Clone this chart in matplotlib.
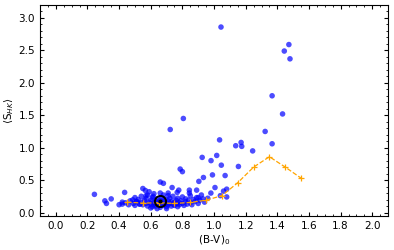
import numpy as np
import matplotlib
matplotlib.use('Agg')
import matplotlib.pyplot as plt
from matplotlib.ticker import AutoMinorLocator

# scattered stars (B-V)_0 vs <S_HK>
bv_out = [0.244, 0.31, 0.32, 0.35, 0.40, 0.435, 0.42, 0.486, 0.51, 0.53, 0.55, 0.566, 0.59, 0.57,
          0.615, 0.66, 0.68, 0.735, 0.71, 0.767, 0.777, 0.844, 0.844, 0.89, 0.786, 0.80, 0.904,
          0.933, 0.99, 1.07, 1.006, 1.08, 1.06, 0.98, 1.04, 1.08, 0.90, 0.925, 1.017, 0.981,
          1.046, 1.154, 1.035, 1.171, 1.137, 1.175, 1.244, 1.323, 1.367, 1.367, 1.433, 1.473,
          1.444, 1.48, 1.044, 0.806, 0.723]
shk_out = [0.28, 0.18, 0.14, 0.21, 0.12, 0.31, 0.16, 0.195, 0.17, 0.13, 0.37, 0.34, 0.32, 0.26,
           0.25, 0.47, 0.45, 0.385, 0.30, 0.31, 0.345, 0.345, 0.30, 0.345, 0.67, 0.63, 0.48,
           0.54, 0.58, 0.57, 0.385, 0.36, 0.33, 0.30, 0.26, 0.24, 0.23, 0.85, 0.88, 0.80,
           0.73, 0.71, 1.12, 1.08, 1.03, 1.02, 0.95, 1.25, 1.06, 1.80, 1.52, 2.59,
           2.49, 2.37, 2.86, 1.45, 1.28]

# dense cluster of solar-like stars
bv_core = [0.42, 0.44, 0.46, 0.47, 0.49, 0.50, 0.51, 0.52, 0.53, 0.54, 0.55, 0.56, 0.57, 0.57,
           0.58, 0.59, 0.60, 0.60, 0.61, 0.61, 0.62, 0.62, 0.63, 0.63, 0.64, 0.64, 0.65, 0.65,
           0.66, 0.66, 0.67, 0.67, 0.68, 0.68, 0.69, 0.69, 0.70, 0.70, 0.71, 0.71, 0.72, 0.72,
           0.73, 0.73, 0.74, 0.74, 0.75, 0.75, 0.76, 0.76, 0.77, 0.77, 0.78, 0.78, 0.79, 0.80,
           0.80, 0.81, 0.82, 0.82, 0.83, 0.84, 0.85, 0.85, 0.86, 0.87, 0.88, 0.89, 0.90, 0.91,
           0.92, 0.93, 0.94, 0.96, 0.58, 0.62, 0.68, 0.66, 0.71, 0.54, 0.50, 0.64, 0.70, 0.60]
shk_core = [0.13, 0.15, 0.12, 0.18, 0.14, 0.11, 0.17, 0.20, 0.13, 0.16, 0.12, 0.19, 0.14, 0.22,
            0.10, 0.16, 0.13, 0.19, 0.09, 0.23, 0.15, 0.12, 0.18, 0.10, 0.14, 0.21, 0.16, 0.12,
            0.19, 0.08, 0.14, 0.23, 0.11, 0.17, 0.13, 0.20, 0.15, 0.09, 0.18, 0.12, 0.22, 0.14,
            0.10, 0.17, 0.13, 0.25, 0.16, 0.11, 0.19, 0.14, 0.09, 0.22, 0.15, 0.12, 0.18, 0.14,
            0.24, 0.11, 0.17, 0.21, 0.13, 0.19, 0.15, 0.26, 0.12, 0.20, 0.17, 0.23, 0.14, 0.19,
            0.27, 0.21, 0.16, 0.22, 0.27, 0.29, 0.27, 0.30, 0.26, 0.25, 0.23, 0.06, 0.06, 0.07]

# binned lower envelope
bv_bin = [0.45, 0.55, 0.65, 0.75, 0.85, 0.95, 1.05, 1.15, 1.25, 1.35, 1.45, 1.55]
shk_bin = [0.16, 0.145, 0.15, 0.14, 0.155, 0.19, 0.26, 0.46, 0.70, 0.86, 0.70, 0.53]

# the Sun
bv_sun = 0.656
shk_sun = 0.18

fig = plt.figure(figsize=(3.94, 2.5), dpi=100)
ax = fig.add_axes([0.1015, 0.137, 0.8835, 0.843])

ax.scatter(bv_core + bv_out, shk_core + shk_out, s=16, c='blue', alpha=0.7, edgecolors='none', zorder=2)
ax.plot(bv_bin, shk_bin, '--', color='orange', marker='+', ms=4, mew=0.9, lw=0.9, zorder=3)
ax.plot(bv_sun, shk_sun, 'o', mfc='none', mec='black', ms=8, mew=1.4, zorder=4)
ax.plot(bv_sun, shk_sun, 'o', color='black', ms=2, zorder=4)

ax.set_xlim(-0.1, 2.1)
ax.set_ylim(-0.05, 3.2)
ax.set_xticks(np.arange(0, 2.01, 0.2))
ax.set_yticks(np.arange(0, 3.01, 0.5))
ax.xaxis.set_minor_locator(AutoMinorLocator())
ax.yaxis.set_minor_locator(AutoMinorLocator())
ax.tick_params(which='both', direction='in', top=True, right=True, labelsize=7.5)
ax.tick_params(which='major', length=3, width=0.8)
ax.tick_params(which='minor', length=1.5, width=0.6)

ax.set_xlabel(r'(B-V)$_0$', fontsize=7.5, labelpad=2)
ax.set_ylabel(r'$\langle \mathrm{S}_{HK} \rangle$', fontsize=7.5, labelpad=2)

plt.savefig('out.png', dpi=100)
